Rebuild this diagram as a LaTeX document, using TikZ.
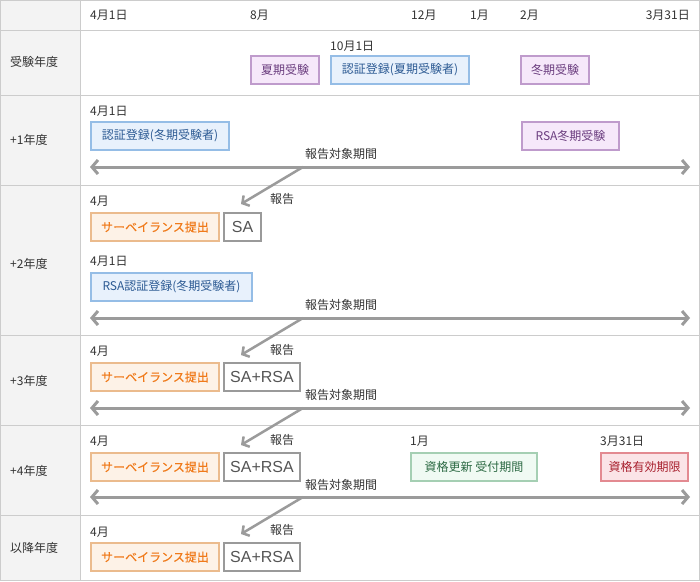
\documentclass[tikz,border=0pt]{standalone}
\usepackage{fontspec}
\newfontfamily\jp{Noto Sans CJK JP}
\newfontfamily\jpb[FakeBold=0.25]{Noto Sans CJK JP}
\newfontfamily\lat{Liberation Sans}
\usetikzlibrary{arrows.meta}
\definecolor{gridc}{HTML}{CCCCCC}
\definecolor{leftc}{HTML}{F3F3F3}
\definecolor{txt}{HTML}{333333}
\definecolor{arr}{HTML}{9B9B9B}
\definecolor{pB}{HTML}{BF9BCC}\definecolor{pF}{HTML}{F6E8FA}\definecolor{pT}{HTML}{6B3D7F}
\definecolor{bB}{HTML}{95BDE6}\definecolor{bF}{HTML}{E8F1FC}\definecolor{bT}{HTML}{2C5A93}
\definecolor{oB}{HTML}{EBBB8D}\definecolor{oF}{HTML}{FDF2E7}\definecolor{oT}{HTML}{F07A1A}
\definecolor{gB}{HTML}{9A9A9A}\definecolor{gT}{HTML}{555555}
\definecolor{eB}{HTML}{A5CFB3}\definecolor{eF}{HTML}{F0FAF3}\definecolor{eT}{HTML}{2E6B45}
\definecolor{rB}{HTML}{E38A91}\definecolor{rF}{HTML}{FBE4E7}\definecolor{rT}{HTML}{A8202E}
\begin{document}
\begin{tikzpicture}[x=1pt,y=-1pt,
  lbl/.style={font=\jp\fontsize{12}{12}\selectfont, text=txt, inner sep=0pt, anchor=west},
  rowlbl/.style={font=\jp\fontsize{12}{12}\selectfont, text=txt, inner sep=0pt, anchor=west},
  evt/.style={draw, line width=2pt, inner sep=0pt, minimum height=28pt, font=\jp\fontsize{12}{12}\selectfont},
  pbox/.style={evt, draw=pB, fill=pF, text=pT},
  bbox/.style={evt, draw=bB, fill=bF, text=bT},
  obox/.style={evt, draw=oB, fill=oF, text=oT, font=\jpb\fontsize{12}{12}\selectfont},
  gbox/.style={evt, draw=gB, fill=white, text=gT, font=\lat\fontsize{16}{16}\selectfont},
  ebox/.style={evt, draw=eB, fill=eF, text=eT},
  rbox/.style={evt, draw=rB, fill=rF, text=rT},
  period/.style={draw=arr, line width=3pt, {Straight Barb[length=6pt,width=14pt]}-{Straight Barb[length=6pt,width=14pt]}},
  report/.style={draw=arr, line width=2.5pt, -{Straight Barb[length=5pt,width=12pt]}},
]
\useasboundingbox (0,0) rectangle (700,581);
\fill[white] (0,0) rectangle (700,581);
\fill[leftc] (0,0) rectangle (80,581);
\draw[gridc, line width=1pt] (0.5,0.5) rectangle (699.5,580.5);
\draw[gridc, line width=1pt] (80,0) -- (80,581);
\foreach \yy in {30,95,185,335,425,515} \draw[gridc, line width=1pt] (0,\yy) -- (700,\yy);

% header
\node[lbl] (h1) at (90,15) {4月1日};
\node[lbl] (h2) at (250,15) {8月};
\node[lbl] (h3) at (411,15) {12月};
\node[lbl] (h4) at (470,15) {1月};
\node[lbl] (h5) at (520,15) {2月};
\node[lbl, anchor=east] (h6) at (690,15) {3月31日};

% row labels
\node[rowlbl] (r0) at (10,62) {受験年度};
\node[rowlbl] (r1) at (10,140) {+1年度};
\node[rowlbl] (r2) at (10,264) {+2年度};
\node[rowlbl] (r3) at (10,381) {+3年度};
\node[rowlbl] (r4) at (10,471) {+4年度};
\node[rowlbl] (r5) at (10,548) {以降年度};

% row 0
\node[lbl] (d0) at (330,46) {10月1日};
\node[pbox, minimum width=68pt] (s0) at (285,70) {夏期受験};
\node[bbox, minimum width=138pt] (c0) at (400,70) {認証登録(夏期受験者)};
\node[pbox, minimum width=68pt] (w0) at (555,70) {冬期受験};

% row 1
\node[lbl] (d1) at (90,111) {4月1日};
\node[bbox, minimum width=138pt] (c1) at (160,136) {認証登録(冬期受験者)};
\node[pbox, minimum width=97pt] (w1) at (570.5,136) {RSA冬期受験};
\coordinate (p1l) at (90,167); \coordinate (p1r) at (690,167);
\draw[period] (p1l) -- (p1r);
\node[lbl, anchor=center] (t1) at (341,154) {報告対象期間};

% row 2
\node[lbl] (d2a) at (90,201) {4月};
\node[lbl] (k2) at (270,199) {報告};
\node[obox, minimum width=128pt] (o2) at (155,227) {サーベイランス提出};
\node[gbox, minimum width=37pt] (g2) at (242.5,227) {SA};
\draw[report] (303,167) -- (241,204);
\node[lbl] (d2b) at (90,261) {4月1日};
\node[bbox, minimum width=161pt] (c2) at (171.5,287) {RSA認証登録(冬期受験者)};
\coordinate (p2l) at (90,318); \coordinate (p2r) at (690,318);
\draw[period] (p2l) -- (p2r);
\node[lbl, anchor=center] (t2) at (341,305) {報告対象期間};

% row 3
\node[lbl] (d3) at (90,351) {4月};
\node[lbl] (k3) at (270,350) {報告};
\node[obox, minimum width=128pt] (o3) at (155,377) {サーベイランス提出};
\node[gbox, minimum width=76pt] (g3) at (262,377) {SA+RSA};
\draw[report] (303,318) -- (241,355);
\coordinate (p3l) at (90,408); \coordinate (p3r) at (690,408);
\draw[period] (p3l) -- (p3r);
\node[lbl, anchor=center] (t3) at (341,395) {報告対象期間};

% row 4
\node[lbl] (d4) at (90,441) {4月};
\node[lbl] (k4) at (270,440) {報告};
\node[obox, minimum width=128pt] (o4) at (155,467) {サーベイランス提出};
\node[gbox, minimum width=76pt] (g4) at (262,467) {SA+RSA};
\draw[report] (303,408) -- (241,445);
\node[lbl] (d4b) at (410,441) {1月};
\node[ebox, minimum width=126pt] (e4) at (474,467) {資格更新 受付期間};
\node[lbl] (d4c) at (600,441) {3月31日};
\node[rbox, minimum width=87pt] (x4) at (644.5,467) {資格有効期限};
\coordinate (p4l) at (90,497); \coordinate (p4r) at (690,497);
\draw[period] (p4l) -- (p4r);
\node[lbl, anchor=center] (t4) at (341,485) {報告対象期間};

% row 5
\node[lbl] (d5) at (90,532) {4月};
\node[lbl] (k5) at (270,530) {報告};
\node[obox, minimum width=128pt] (o5) at (155,557) {サーベイランス提出};
\node[gbox, minimum width=76pt] (g5) at (262,557) {SA+RSA};
\draw[report] (303,497) -- (241,534);
\end{tikzpicture}
\end{document}
